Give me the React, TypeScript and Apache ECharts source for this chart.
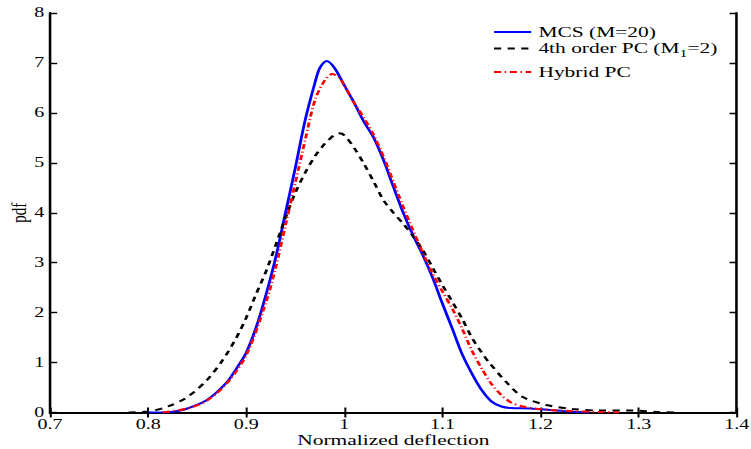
import React, { useEffect, useRef } from "react";
import * as echarts from "echarts";

// Data
const mcsX = [0.80, 0.815, 0.83, 0.84, 0.86, 0.88, 0.89, 0.90, 0.91, 0.92, 0.93, 0.94, 0.95, 0.96, 0.97, 0.975, 0.982, 0.99, 1.00, 1.01, 1.02, 1.03, 1.04, 1.05, 1.06, 1.07, 1.08, 1.09, 1.10, 1.11, 1.12, 1.13, 1.14, 1.15, 1.16, 1.17, 1.19, 1.21, 1.23, 1.25];
const mcsY = [0, 0, 0.03, 0.08, 0.25, 0.6, 0.88, 1.2, 1.7, 2.35, 3.1, 4.0, 4.9, 5.85, 6.6, 6.9, 7.04, 6.9, 6.55, 6.2, 5.82, 5.5, 5.05, 4.52, 4.0, 3.55, 3.15, 2.7, 2.18, 1.68, 1.17, 0.78, 0.45, 0.22, 0.12, 0.09, 0.08, 0.05, 0.02, 0];

const pc4X = [0.78, 0.80, 0.82, 0.84, 0.86, 0.876, 0.89, 0.90, 0.91, 0.92, 0.93, 0.94, 0.95, 0.96, 0.97, 0.98, 0.99, 0.995, 1.0, 1.01, 1.02, 1.03, 1.04, 1.05, 1.06, 1.07, 1.08, 1.09, 1.10, 1.11, 1.12, 1.13, 1.14, 1.148, 1.166, 1.182, 1.206, 1.233, 1.26, 1.294, 1.318, 1.34];
const pc4Y = [0, 0.02, 0.12, 0.31, 0.65, 1.05, 1.5, 1.9, 2.37, 2.82, 3.35, 3.9, 4.4, 4.8, 5.13, 5.38, 5.56, 5.59, 5.55, 5.3, 4.98, 4.62, 4.25, 4.0, 3.78, 3.53, 3.25, 2.9, 2.55, 2.22, 1.88, 1.5, 1.2, 0.99, 0.59, 0.31, 0.15, 0.07, 0.04, 0.04, 0.01, 0];

const hybX = [0.815, 0.84, 0.86, 0.88, 0.90, 0.92, 0.93, 0.94, 0.95, 0.96, 0.97, 0.98, 0.988, 0.995, 1.0, 1.01, 1.02, 1.03, 1.04, 1.05, 1.06, 1.07, 1.08, 1.09, 1.10, 1.11, 1.12, 1.13, 1.14, 1.15, 1.16, 1.17, 1.18, 1.19, 1.21, 1.23, 1.26, 1.28];
const hybY = [0, 0.08, 0.24, 0.58, 1.15, 2.2, 2.9, 3.75, 4.6, 5.45, 6.25, 6.65, 6.78, 6.7, 6.55, 6.2, 5.9, 5.55, 5.12, 4.62, 4.12, 3.65, 3.2, 2.78, 2.42, 2.08, 1.68, 1.24, 0.88, 0.57, 0.35, 0.2, 0.13, 0.09, 0.05, 0.03, 0.01, 0];

const seriesNames = ["MCS (M=20)", "4th order PC (M1=2)", "Hybrid PC"];

const xMin = 0.7;
const xMax = 1.4;
const xStep = 0.1;
const yMin = 0;
const yMax = 8;
const yStep = 1;

const S = 1.43; // horizontal stretch of the reference picture
const W = 751 / S;
const H = 449;
const FONT = "'Liberation Serif', 'Times New Roman', serif";

const pairs = (xs: number[], ys: number[]) => xs.map((x, i) => [x, ys[i]]);

export default function App() {
  const ref = useRef<HTMLDivElement>(null);
  useEffect(() => {
    if (!ref.current) return;
    const chart = echarts.init(ref.current, undefined, { renderer: "svg" });
    const axisLine = { show: true, lineStyle: { color: "#000", width: 1.8 } };
    const tickX = { show: true, inside: true, length: 5, lineStyle: { color: "#000", width: 1.4 } };
    const tickY = { show: true, inside: true, length: 5, lineStyle: { color: "#000", width: 1.4 } };
    const legendBase = {
      orient: "vertical",
      left: 344.5,
      padding: 0,
      itemWidth: 26,
      itemHeight: 14,
      itemStyle: { opacity: 0 },
      textStyle: {
        fontFamily: FONT,
        fontSize: 15,
        color: "#000",
        rich: {
          n: { fontFamily: FONT, fontSize: 15, color: "#000" },
          sub: { fontFamily: FONT, fontSize: 11, color: "#000", padding: [9, 0, 0, 0] },
        },
      },
    };
    chart.setOption({
      animation: false,
      backgroundColor: "#fff",
      grid: {
        left: 35,
        right: W - 737 / S,
        top: 13,
        bottom: 36.5,
        containLabel: false,
        outerBoundsMode: "none",
      },
      xAxis: [
        {
          type: "value",
          min: xMin,
          max: xMax,
          interval: xStep,
          position: "bottom",
          axisLine,
          axisTick: tickX,
          splitLine: { show: false },
          axisLabel: {
            color: "#000",
            fontFamily: FONT,
            fontSize: 14,
            lineHeight: 12,
            margin: 6,
            formatter: (v: number) => String(Math.round(v * 10) / 10),
          },
          name: "Normalized deflection",
          nameLocation: "middle",
          nameGap: 20,
          nameMoveOverlap: false,
          nameTextStyle: { color: "#000", fontFamily: FONT, fontSize: 15 },
        },
        {
          type: "value",
          min: xMin,
          max: xMax,
          interval: xStep,
          position: "top",
          axisLine,
          axisTick: tickX,
          splitLine: { show: false },
          axisLabel: { show: false },
        },
      ],
      yAxis: [
        {
          type: "value",
          min: yMin,
          max: yMax,
          interval: yStep,
          position: "left",
          axisLine,
          axisTick: tickY,
          splitLine: { show: false },
          axisLabel: { color: "#000", fontFamily: FONT, fontSize: 14, lineHeight: 11, margin: 4 },
          name: "pdf",
          nameLocation: "middle",
          nameGap: 14.5,
          nameRotate: 90,
          nameMoveOverlap: false,
          nameTextStyle: { color: "#000", fontFamily: FONT, fontSize: 15 },
        },
        {
          type: "value",
          min: yMin,
          max: yMax,
          interval: yStep,
          position: "right",
          axisLine,
          axisTick: tickY,
          splitLine: { show: false },
          axisLabel: { show: false },
        },
      ],
      legend: [
        { ...legendBase, top: 24.5, data: [seriesNames[0]] },
        {
          ...legendBase,
          top: 41,
          data: [seriesNames[1]],
          formatter: () => "{n|4th order PC (M}{sub|1}{n|=2)}",
        },
        { ...legendBase, top: 64.5, data: [seriesNames[2]] },
      ],
      series: [
        {
          name: seriesNames[0],
          type: "line",
          data: pairs(mcsX, mcsY),
          smooth: 0.3,
          symbol: "none",
          lineStyle: { color: "#0000ff", width: 2 },
          itemStyle: { color: "#0000ff" },
          z: 2,
        },
        {
          name: seriesNames[1],
          type: "line",
          data: pairs(pc4X, pc4Y),
          smooth: 0.3,
          symbol: "none",
          lineStyle: { color: "#000", width: 2, type: [5, 4.5] },
          itemStyle: { color: "#000" },
          z: 3,
        },
        {
          name: seriesNames[2],
          type: "line",
          data: pairs(hybX, hybY),
          smooth: 0.3,
          symbol: "none",
          lineStyle: { color: "#ff0000", width: 2, type: [5, 2.5, 1, 2.5] },
          itemStyle: { color: "#ff0000" },
          z: 4,
        },
      ],
    });
    return () => chart.dispose();
  }, []);
  return (
    <div
      ref={ref}
      style={{
        position: "absolute",
        left: 0,
        top: 0,
        width: W,
        height: H,
        transform: `scaleX(${S})`,
        transformOrigin: "0 0",
      }}
    />
  );
}
